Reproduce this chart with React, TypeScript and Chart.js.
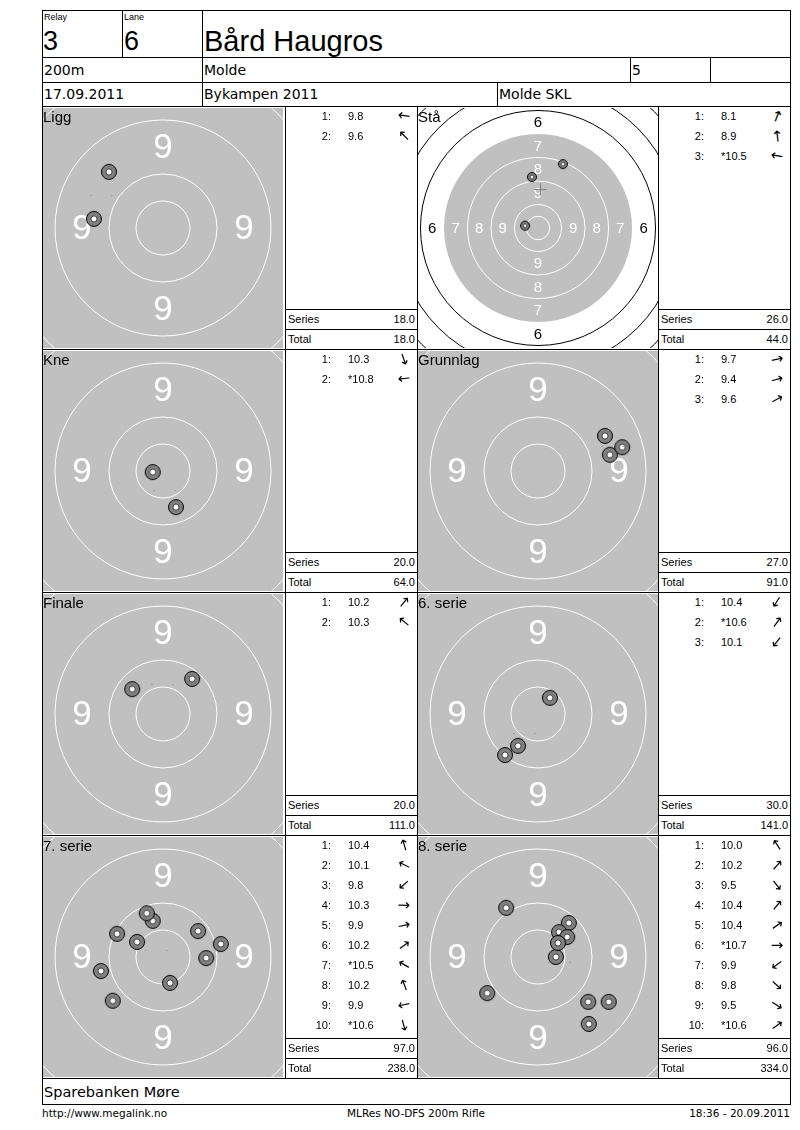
import React, { useEffect, useRef } from "react";
import { Chart, registerables } from "chart.js";
Chart.register(...registerables);

// ---------- header / footer texts ----------
const relayLabel = "Relay";
const laneLabel = "Lane";
const relayValue = "3";
const laneValue = "6";
const shooterName = "Bård Haugros";
const distanceText = "200m";
const clubText = "Molde";
const classText = "5";
const dateText = "17.09.2011";
const eventText = "Bykampen 2011";
const organizerText = "Molde SKL";
const sponsorText = "Sparebanken Møre";
const footerLeft = "http://www.megalink.no";
const footerCenter = "MLRes NO-DFS 200m Rifle";
const footerRight = "18:36 - 20.09.2011";
const seriesLabel = "Series";
const totalLabel = "Total";

// ---------- series ----------
const seriesNames = ["Ligg", "Stå", "Kne", "Grunnlag", "Finale", "6. serie", "7. serie", "8. serie"];

// shot positions in ring units (1 unit = width of one ring), x right, y up
const liggScores = ["9.8", "9.6"];
const liggX = [-1.28, -1.0];
const liggY = [0.17, 1.04];

const staScores = ["8.1", "8.9", "*10.5"];
const staX = [1.06, -0.26, -0.55];
const staY = [2.72, 2.17, 0.1];

const kneScores = ["10.3", "*10.8"];
const kneX = [0.24, -0.19];
const kneY = [-0.67, -0.02];

const grunnlagScores = ["9.7", "9.4", "9.6"];
const grunnlagX = [1.33, 1.56, 1.24];
const grunnlagY = [0.3, 0.44, 0.65];

const finaleScores = ["10.2", "10.3"];
const finaleX = [0.54, -0.57];
const finaleY = [0.65, 0.46];

const serie6Scores = ["10.4", "*10.6", "10.1"];
const serie6X = [-0.37, 0.22, -0.61];
const serie6Y = [-0.59, 0.3, -0.76];

const serie7Scores = ["10.4", "10.1", "9.8", "10.3", "9.9", "10.2", "*10.5", "10.2", "9.9", "*10.6"];
const serie7X = [-0.19, -0.85, -0.93, 0.8, 1.07, 0.65, -0.48, -0.3, -1.15, 0.13];
const serie7Y = [0.67, 0.43, -0.81, -0.02, 0.24, 0.48, 0.28, 0.81, -0.26, -0.48];

const serie8Scores = ["10.0", "10.2", "9.5", "10.4", "10.4", "*10.7", "9.9", "9.8", "9.5", "*10.6"];
const serie8X = [-0.59, 0.57, 0.94, 0.39, 0.54, 0.33, -0.94, 0.93, 1.31, 0.37];
const serie8Y = [0.91, 0.63, -1.24, 0.46, 0.37, 0.0, -0.67, -0.83, -0.83, 0.26];

const seriesTotals = [18.0, 26.0, 20.0, 27.0, 20.0, 30.0, 97.0, 96.0];
const runningTotals = [18.0, 44.0, 64.0, 91.0, 111.0, 141.0, 238.0, 334.0];

// ring values drawn on the target (outer edge radius = 11 - value), and the inner ten
const ringValues = [10, 9, 8, 7, 6, 5, 4];
const labelledRings = [9, 8, 7, 6];
const innerTenRadius = 0.5;

const allScores = [liggScores, staScores, kneScores, grunnlagScores, finaleScores, serie6Scores, serie7Scores, serie8Scores];
const allX = [liggX, staX, kneX, grunnlagX, finaleX, serie6X, serie7X, serie8X];
const allY = [liggY, staY, kneY, grunnlagY, finaleY, serie6Y, serie7Y, serie8Y];

// ---------- layout ----------
const FONT = '"Liberation Sans", Arial, sans-serif';
const WIDE = '"DejaVu Sans", "Liberation Sans", sans-serif';
const L = 42, R = 790, TOP = 10;
const H1 = 57, H2 = 82, H3 = 106;
const rowTops = [106, 349, 592, 835];
const ROWS_END = 1078;
const SPONSOR_END = 1104;
const targetLeft = [43, 418];
const tableLeft = [285, 658];
const tableRight = [417, 790];
const TARGET_SIZE = 240;
// pixels per ring unit: wide view for standing, zoomed view for the rest
const unitPx = (i: number) => (i === 1 ? 23.5 : 54);
const shotRadius = (i: number) => (i === 1 ? 5 : 8);

function makeMarker(r: number) {
  const c = document.createElement("canvas");
  const s = r * 2 + 2;
  c.width = s;
  c.height = s;
  const g = c.getContext("2d")!;
  const m = s / 2;
  g.beginPath();
  g.arc(m, m, r - 0.5, 0, Math.PI * 2);
  g.fillStyle = "#808080";
  g.fill();
  g.lineWidth = 1;
  g.strokeStyle = "#000";
  g.stroke();
  const ri = Math.max(1.5, r * 0.38);
  g.beginPath();
  g.arc(m, m, ri, 0, Math.PI * 2);
  g.fillStyle = "#fff";
  g.fill();
  g.lineWidth = 0.8;
  g.strokeStyle = "#222";
  g.stroke();
  return c;
}

const targetFacePlugin = {
  id: "targetFace",
  beforeDatasetsDraw(chart: any) {
    const { ctx } = chart;
    const xs = chart.scales.x;
    const ys = chart.scales.y;
    const cx = xs.getPixelForValue(0);
    const cy = ys.getPixelForValue(0);
    const u = xs.getPixelForValue(1) - cx;
    const W = chart.width;
    const Hh = chart.height;
    ctx.save();
    ctx.beginPath();
    ctx.rect(0, 0, W, Hh);
    ctx.clip();
    ctx.fillStyle = "#fff";
    ctx.fillRect(0, 0, W, Hh);
    // grey aiming area: rings 7..10
    ctx.beginPath();
    ctx.arc(cx, cy, (11 - 7) * u, 0, Math.PI * 2);
    ctx.fillStyle = "#c0c0c0";
    ctx.fill();
    ctx.lineWidth = 1;
    ringValues.forEach((v) => {
      const rr = (11 - v) * u;
      if (v === 7) return;
      ctx.beginPath();
      ctx.arc(cx, cy, rr, 0, Math.PI * 2);
      ctx.strokeStyle = v >= 7 ? "#fff" : "#000";
      ctx.stroke();
    });
    ctx.beginPath();
    ctx.arc(cx, cy, innerTenRadius * u, 0, Math.PI * 2);
    ctx.strokeStyle = "#fff";
    ctx.stroke();
    // ring numbers
    const fs = Math.round(0.64 * u);
    ctx.font = `${fs}px ${FONT}`;
    ctx.textAlign = "center";
    ctx.textBaseline = "middle";
    labelledRings.forEach((v) => {
      const d = (11 - v - 0.5) * u;
      ctx.fillStyle = v >= 7 ? "#fff" : "#000";
      const off = fs * 0.05;
      ctx.fillText(String(v), cx - d, cy + off);
      ctx.fillText(String(v), cx + d, cy + off);
      ctx.fillText(String(v), cx, cy - d + off);
      ctx.fillText(String(v), cx, cy + d + off);
    });
    ctx.restore();
  },
  afterDatasetsDraw(chart: any, _args: any, opts: any) {
    const meta = chart.getDatasetMeta(1);
    if (!meta || !meta.data.length) return;
    const p = meta.data[0];
    const { ctx } = chart;
    ctx.save();
    ctx.strokeStyle = "#808080";
    ctx.lineWidth = 1;
    const x = Math.round(p.x) + 0.5;
    const y = Math.round(p.y) + 0.5;
    if (opts && opts.full) {
      ctx.beginPath();
      ctx.moveTo(x - 6, y);
      ctx.lineTo(x + 6, y);
      ctx.moveTo(x, y - 6);
      ctx.lineTo(x, y + 6);
      ctx.stroke();
    } else {
      ctx.beginPath();
      ctx.moveTo(x - 11, y);
      ctx.lineTo(x - 10, y);
      ctx.moveTo(x + 10, y);
      ctx.lineTo(x + 11, y);
      ctx.stroke();
    }
    ctx.restore();
  },
};

function Target({ idx, left, top }: { idx: number; left: number; top: number }) {
  const ref = useRef<HTMLCanvasElement>(null);
  useEffect(() => {
    if (!ref.current) return;
    const half = TARGET_SIZE / 2 / unitPx(idx);
    const xs = allX[idx];
    const ys = allY[idx];
    const pts = xs.map((x, i) => ({ x, y: ys[i] }));
    const mean = {
      x: xs.reduce((a, b) => a + b, 0) / xs.length,
      y: ys.reduce((a, b) => a + b, 0) / ys.length,
    };
    const marker = makeMarker(shotRadius(idx));
    const chart = new Chart(ref.current, {
      type: "scatter",
      data: {
        datasets: [
          { data: pts, pointStyle: marker as any, pointRadius: shotRadius(idx), order: 2, clip: false as any },
          { data: [mean], pointRadius: 0, order: 1 },
        ],
      },
      options: {
        animation: false,
        responsive: false,
        maintainAspectRatio: false,
        devicePixelRatio: 1,
        events: [],
        layout: { padding: 0, autoPadding: false },
        scales: {
          x: { type: "linear", min: -half, max: half, display: false },
          y: { type: "linear", min: -half, max: half, display: false },
        },
        plugins: {
          legend: { display: false },
          tooltip: { enabled: false },
          targetFace: { full: idx === 1 },
        } as any,
      },
      plugins: [targetFacePlugin],
    });
    return () => chart.destroy();
  }, [idx]);
  return (
    <canvas
      ref={ref}
      width={TARGET_SIZE}
      height={TARGET_SIZE}
      style={{ position: "absolute", left, top, width: TARGET_SIZE, height: TARGET_SIZE }}
    />
  );
}

function HLine({ x1, x2, y }: { x1: number; x2: number; y: number }) {
  return <div style={{ position: "absolute", left: x1, top: y, width: x2 - x1 + 1, height: 1, background: "#000" }} />;
}
function VLine({ x, y1, y2 }: { x: number; y1: number; y2: number }) {
  return <div style={{ position: "absolute", left: x, top: y1, width: 1, height: y2 - y1 + 1, background: "#000" }} />;
}
function Txt({
  x, y, size, text, align = "left", family = FONT,
}: { x: number; y: number; size: number; text: string; align?: "left" | "right" | "center"; family?: string }) {
  const h = Math.round(size * 1.25);
  const style: any = {
    position: "absolute",
    top: y - h / 2,
    height: h,
    lineHeight: `${h}px`,
    fontSize: size,
    fontFamily: family,
    whiteSpace: "nowrap",
    color: "#000",
  };
  if (align === "left") style.left = x;
  else if (align === "right") style.right = 800 - x;
  else {
    style.left = x - 200;
    style.width = 400;
    style.textAlign = "center";
  }
  return <div style={style}>{text}</div>;
}

function Arrow({ x, y, angle }: { x: number; y: number; angle: number }) {
  return (
    <div
      style={{
        position: "absolute",
        left: x - 9,
        top: y - 9,
        width: 18,
        height: 18,
        lineHeight: "18px",
        textAlign: "center",
        fontSize: 15,
        fontFamily: '"DejaVu Sans", sans-serif',
        transform: `rotate(${-angle}deg)`,
      }}
    >
      →
    </div>
  );
}

export default function App() {
  const lines: React.ReactNode[] = [];
  const texts: React.ReactNode[] = [];
  let k = 0;
  [TOP, H1, H2, H3, ...rowTops.slice(1), ROWS_END, SPONSOR_END].forEach((y) =>
    lines.push(<HLine key={k++} x1={L} x2={R} y={y} />)
  );
  lines.push(<VLine key={k++} x={L} y1={TOP} y2={SPONSOR_END} />);
  lines.push(<VLine key={k++} x={R} y1={TOP} y2={SPONSOR_END} />);
  lines.push(<VLine key={k++} x={122} y1={TOP} y2={H1} />);
  lines.push(<VLine key={k++} x={202} y1={TOP} y2={H3} />);
  lines.push(<VLine key={k++} x={630} y1={H1} y2={H2} />);
  lines.push(<VLine key={k++} x={710} y1={H1} y2={H2} />);
  lines.push(<VLine key={k++} x={497} y1={H2} y2={H3} />);
  [tableLeft[0], tableRight[0], tableLeft[1]].forEach((x) =>
    lines.push(<VLine key={k++} x={x} y1={H3} y2={ROWS_END} />)
  );

  // header texts
  texts.push(<Txt key={k++} x={44} y={17} size={9} text={relayLabel} />);
  texts.push(<Txt key={k++} x={124} y={17} size={9} text={laneLabel} />);
  texts.push(<Txt key={k++} x={43} y={41} size={27} text={relayValue} />);
  texts.push(<Txt key={k++} x={124} y={41} size={27} text={laneValue} />);
  texts.push(<Txt key={k++} x={204} y={41} size={29} text={shooterName} />);
  texts.push(<Txt key={k++} x={44} y={70} size={14} text={distanceText} family={WIDE} />);
  texts.push(<Txt key={k++} x={204} y={70} size={14} text={clubText} family={WIDE} />);
  texts.push(<Txt key={k++} x={632} y={70} size={14} text={classText} family={WIDE} />);
  texts.push(<Txt key={k++} x={44} y={94} size={14} text={dateText} family={WIDE} />);
  texts.push(<Txt key={k++} x={204} y={94} size={14} text={eventText} family={WIDE} />);
  texts.push(<Txt key={k++} x={499} y={94} size={14} text={organizerText} family={WIDE} />);
  texts.push(<Txt key={k++} x={44} y={1092} size={14.5} text={sponsorText} family={WIDE} />);
  texts.push(<Txt key={k++} x={42} y={1113} size={10.5} text={footerLeft} family={WIDE} />);
  texts.push(<Txt key={k++} x={416} y={1113} size={10.5} text={footerCenter} align="center" family={WIDE} />);
  texts.push(<Txt key={k++} x={790} y={1113} size={10.5} text={footerRight} align="right" family={WIDE} />);

  const targets: React.ReactNode[] = [];
  seriesNames.forEach((name, idx) => {
    const row = Math.floor(idx / 2);
    const col = idx % 2;
    const top = rowTops[row];
    const bottom = row < 3 ? rowTops[row + 1] : ROWS_END;
    targets.push(<Target key={`t${idx}`} idx={idx} left={targetLeft[col]} top={top + 2} />);
    texts.push(<Txt key={k++} x={targetLeft[col]} y={top + 10} size={15} text={name} />);
    const tl = tableLeft[col];
    const tr = tableRight[col];
    allScores[idx].forEach((s, i) => {
      const y = top + 10 + i * 20;
      texts.push(<Txt key={k++} x={tl + 46} y={y} size={11} text={`${i + 1}:`} align="right" />);
      texts.push(<Txt key={k++} x={tl + 63} y={y} size={11} text={s} />);
      const ang = (Math.atan2(allY[idx][i], allX[idx][i]) * 180) / Math.PI;
      texts.push(<Arrow key={k++} x={tl + 119} y={y} angle={ang} />);
    });
    lines.push(<HLine key={k++} x1={tl} x2={tr} y={bottom - 40} />);
    lines.push(<HLine key={k++} x1={tl} x2={tr} y={bottom - 20} />);
    texts.push(<Txt key={k++} x={tl + 3} y={bottom - 30} size={11} text={seriesLabel} />);
    texts.push(<Txt key={k++} x={tr - 2} y={bottom - 30} size={11} text={seriesTotals[idx].toFixed(1)} align="right" />);
    texts.push(<Txt key={k++} x={tl + 3} y={bottom - 10} size={11} text={totalLabel} />);
    texts.push(<Txt key={k++} x={tr - 2} y={bottom - 10} size={11} text={runningTotals[idx].toFixed(1)} align="right" />);
  });

  return (
    <div
      style={{
        position: "absolute",
        left: 0,
        top: 0,
        width: 800,
        height: 1130,
        background: "#fff",
        fontFamily: FONT,
        overflow: "hidden",
      }}
    >
      {targets}
      {lines}
      {texts}
    </div>
  );
}
